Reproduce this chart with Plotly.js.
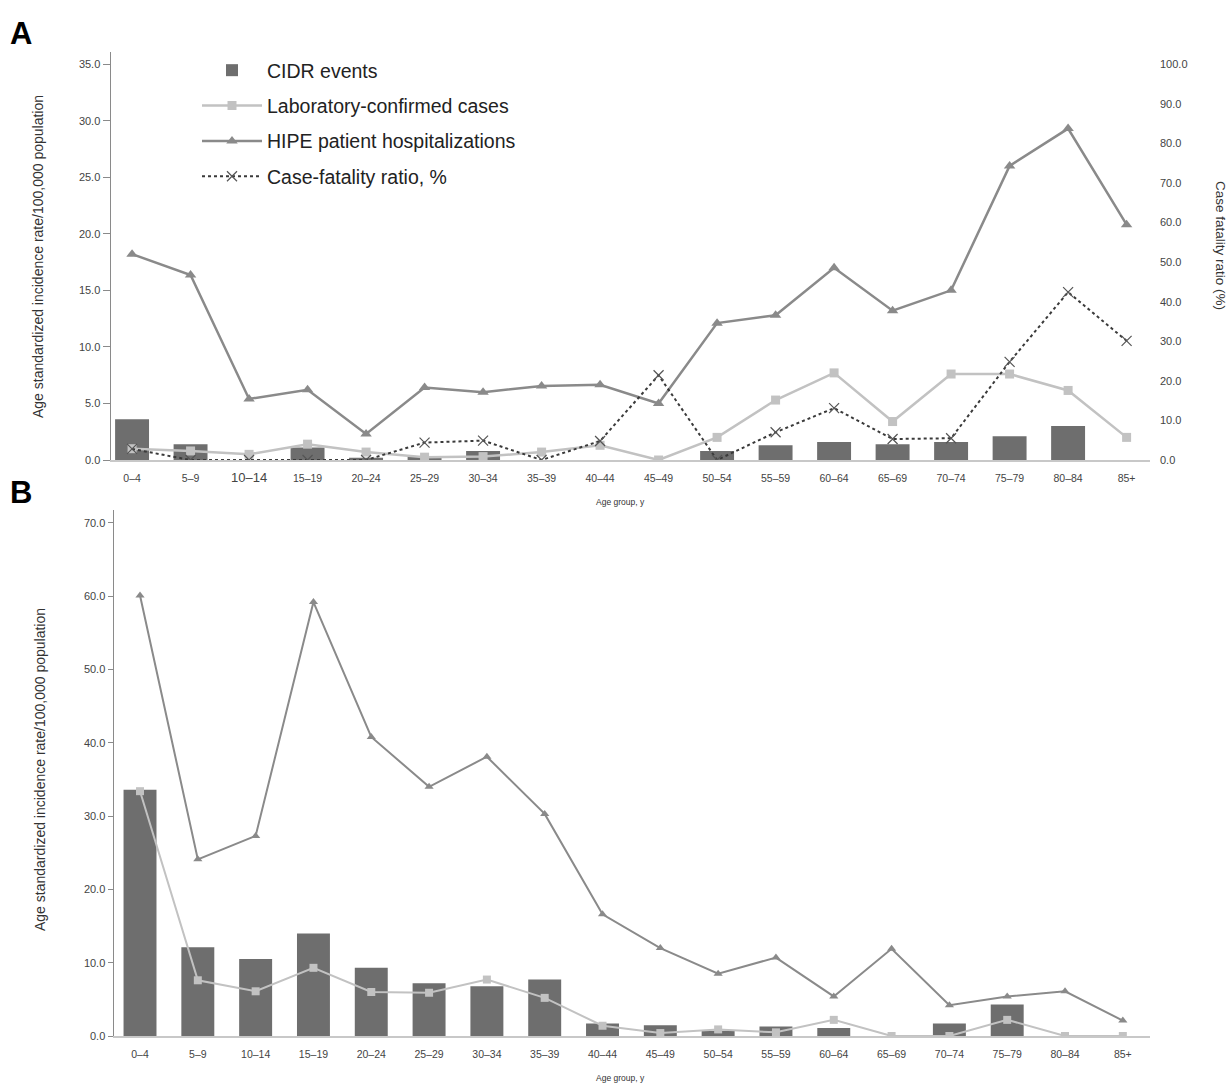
<!DOCTYPE html>
<html>
<head>
<meta charset="utf-8">
<script src="https://cdn.plot.ly/plotly-3.0.1.min.js"></script>
<style>html,body{margin:0;padding:0;background:#fff;}#chart{width:1231px;height:1086px;}</style>
</head>
<body>
<div id="chart"></div>
<script>
// Age groups (categories)
const ages = ['0–4','5–9','10–14','15–19','20–24','25–29','30–34','35–39','40–44','45–49','50–54','55–59','60–64','65–69','70–74','75–79','80–84','85+'];

// Panel A series
const cidrA = [3.6,1.4,0,1.1,0.2,0.3,0.8,0,0,0,0.8,1.3,1.6,1.4,1.6,2.1,3.0,0];
const labA  = [1.0,0.8,0.5,1.4,0.7,0.25,0.3,0.7,1.3,0,2.0,5.3,7.7,3.4,7.6,7.6,6.15,2.0];
const hipeA = [18.2,16.35,5.4,6.2,2.3,6.4,6.0,6.55,6.65,5.0,12.1,12.8,17.0,13.2,15.0,26.0,29.3,20.8];
const cfrA  = [2.8,0,0,0,0,4.4,4.9,0,4.8,21.4,0,7.0,13.1,5.3,5.5,24.8,42.4,30.1];

// Panel B series
const cidrB = [33.6,12.1,10.5,14.0,9.3,7.2,6.8,7.7,1.7,1.45,0.7,1.3,1.1,0,1.7,4.3,0,0];
const labB  = [33.4,7.6,6.1,9.3,6.0,5.9,7.7,5.2,1.4,0.4,0.9,0.5,2.2,0,0,2.2,0,0];
const hipeB = [60.1,24.1,27.3,59.2,40.8,34.0,38.1,30.3,16.6,12.0,8.5,10.7,5.4,11.9,4.2,5.4,6.1,2.1];

// Tick labels for panel A (10–14 printed larger in the original)
const tickTextA = ages.map(a => a === '10–14' ? '<span style="font-size:13px">' + a + '</span>' : a);

const W = 1231, H = 1086;
const px = v => v / W;
const py = v => 1 - v / H;

const FONT = 'Liberation Sans, Arial, Helvetica, sans-serif';
const barColor = '#6e6e6e';
const labColor = '#c2c2c2';
const hipeColor = '#8a8a8a';
const cfrColor = '#3a3a3a';

const traces = [
  {type:'bar', name:'CIDR events', x:ages, y:cidrA, xaxis:'x', yaxis:'y', width:0.58,
   marker:{color:barColor}, legendgroup:'g1', showlegend:true},
  {type:'scatter', mode:'lines+markers', name:'Laboratory-confirmed cases', x:ages, y:labA, xaxis:'x', yaxis:'y',
   line:{color:labColor, width:2.5}, marker:{symbol:'square', size:9, color:labColor}, legendgroup:'g2'},
  {type:'scatter', mode:'lines+markers', name:'HIPE patient hospitalizations', x:ages, y:hipeA, xaxis:'x', yaxis:'y',
   line:{color:hipeColor, width:2.5}, marker:{symbol:'triangle-up', size:10, color:hipeColor}, legendgroup:'g3'},
  {type:'scatter', mode:'lines+markers', name:'Case-fatality ratio, %', x:ages, y:cfrA, xaxis:'x', yaxis:'y2',
   line:{color:cfrColor, width:2, dash:'dot'}, marker:{symbol:'x-thin-open', size:10, color:'#555', line:{color:'#555', width:1.2}}, legendgroup:'g4'},

  {type:'bar', name:'CIDR events', x:ages, y:cidrB, xaxis:'x2', yaxis:'y3', width:0.57,
   marker:{color:barColor}, showlegend:false},
  {type:'scatter', mode:'lines+markers', name:'Laboratory-confirmed cases', x:ages, y:labB, xaxis:'x2', yaxis:'y3',
   line:{color:labColor, width:2}, marker:{symbol:'square', size:8, color:labColor}, showlegend:false},
  {type:'scatter', mode:'lines+markers', name:'HIPE patient hospitalizations', x:ages, y:hipeB, xaxis:'x2', yaxis:'y3',
   line:{color:hipeColor, width:2}, marker:{symbol:'triangle-up', size:8, color:hipeColor}, showlegend:false}
];

const tickFont = {family:FONT, size:10.5, color:'#444'};
const yTickFont = {family:FONT, size:11, color:'#444'};

const layout = {
  width:W, height:H,
  margin:{l:0, r:0, t:0, b:0},
  paper_bgcolor:'#fff', plot_bgcolor:'rgba(0,0,0,0)',
  font:{family:FONT, color:'#333'},
  showlegend:true,
  barmode:'overlay',
  legend:{x:px(197), y:py(51), xanchor:'left', yanchor:'top', font:{family:FONT, size:19.5, color:'#222'},
          bgcolor:'rgba(0,0,0,0)', itemwidth:60, traceorder:'grouped', tracegroupgap:7},
  xaxis:{domain:[px(111), px(1150)], anchor:'y', type:'category', range:[-0.36, 17.4],
         showline:true, linecolor:'#c8c8c8', linewidth:1.5, ticks:'', showgrid:false, zeroline:false,
         tickvals:ages, ticktext:tickTextA, tickfont:tickFont, tickangle:0, ticklabelstandoff:8},
  yaxis:{domain:[py(460), py(52)], anchor:'x', range:[0, 36.07], dtick:5, tickformat:'.1f',
         showline:true, linecolor:'#8a8a8a', linewidth:1.5, ticks:'outside', ticklen:7, tickcolor:'#8a8a8a',
         showgrid:false, zeroline:false, tickfont:yTickFont},
  yaxis2:{overlaying:'y', side:'right', anchor:'x', range:[0, 103.06], dtick:10, tickformat:'.1f',
          showline:false, showgrid:false, zeroline:false, ticks:'', tickfont:yTickFont, ticklabelstandoff:9},
  xaxis2:{domain:[px(114), px(1150)], anchor:'y3', type:'category', range:[-0.45, 17.47],
          showline:true, linecolor:'#c8c8c8', linewidth:1.5, ticks:'', showgrid:false, zeroline:false,
          tickfont:tickFont, tickangle:0, ticklabelstandoff:8},
  yaxis3:{domain:[py(1036), py(510)], anchor:'x2', range:[0, 71.76], dtick:10, tickformat:'.1f',
          showline:true, linecolor:'#8a8a8a', linewidth:1.5, ticks:'outside', ticklen:5, tickcolor:'#8a8a8a',
          showgrid:false, zeroline:false, tickfont:yTickFont},
  annotations:[
    {text:'<b>A</b>', xref:'paper', yref:'paper', x:px(8), y:py(14), xanchor:'left', yanchor:'top', showarrow:false,
     font:{family:FONT, size:31, color:'#000'}},
    {text:'<b>B</b>', xref:'paper', yref:'paper', x:px(8), y:py(473), xanchor:'left', yanchor:'top', showarrow:false,
     font:{family:FONT, size:31, color:'#000'}},
    {text:'Age standardized incidence rate/100,000 population', xref:'paper', yref:'paper', x:px(38), y:py(257),
     xanchor:'center', yanchor:'middle', textangle:-90, showarrow:false, font:{family:FONT, size:14, color:'#333'}},
    {text:'Age standardized incidence rate/100,000 population', xref:'paper', yref:'paper', x:px(40), y:py(770),
     xanchor:'center', yanchor:'middle', textangle:-90, showarrow:false, font:{family:FONT, size:14, color:'#333'}},
    {text:'Case fatality ratio (%)', xref:'paper', yref:'paper', x:px(1221), y:py(245),
     xanchor:'center', yanchor:'middle', textangle:90, showarrow:false, font:{family:FONT, size:13.5, color:'#333'}},
    {text:'Age group, y', xref:'paper', yref:'paper', x:px(620), y:py(502), xanchor:'center', yanchor:'middle', showarrow:false,
     font:{family:FONT, size:8.5, color:'#333'}},
    {text:'Age group, y', xref:'paper', yref:'paper', x:px(620), y:py(1078), xanchor:'center', yanchor:'middle', showarrow:false,
     font:{family:FONT, size:8.5, color:'#333'}}
  ]
};

Plotly.newPlot('chart', traces, layout, {staticPlot:true, displayModeBar:false});
</script>
</body>
</html>
